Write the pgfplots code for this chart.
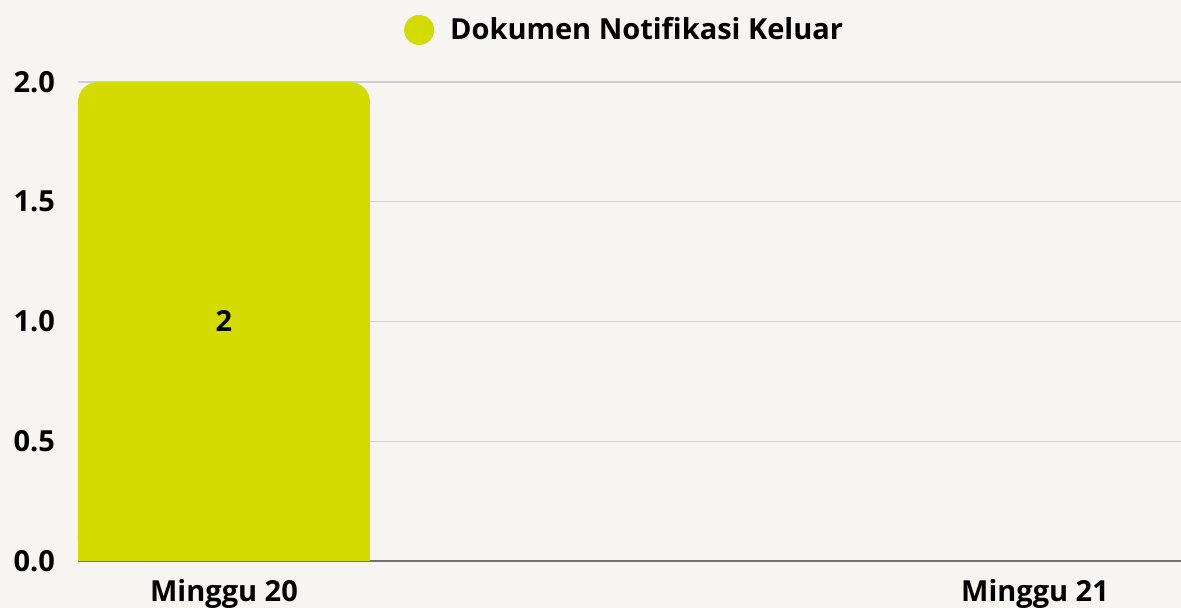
\documentclass[border=0pt]{standalone}
\usepackage{fontspec}
\setmainfont{Open Sans}
\usepackage{pgfplots}
\pgfplotsset{compat=1.18}
\definecolor{barcol}{HTML}{D4DB00}
\definecolor{bgcol}{HTML}{F7F5F2}
\definecolor{gridcol}{HTML}{CFCFCF}
\definecolor{axcol}{HTML}{707070}
\newcommand{\lbl}{\fontsize{14.5}{16}\selectfont\bfseries}
\begin{document}
\begin{tikzpicture}
\path[use as bounding box, fill=bgcol] (-39pt,-23.5pt) rectangle (551.5pt,280.5pt);
\begin{axis}[
  scale only axis, width=551.5pt, height=239.5pt,
  anchor=south west, at={(0pt,0pt)},
  xmin=-0.18, xmax=1.18, ymin=0, ymax=2,
  xtick={0,1}, xticklabels={Minggu 20, Minggu 21},
  ytick={0,0.5,1,1.5,2},
  yticklabel style={/pgf/number format/fixed, /pgf/number format/fixed zerofill,
    /pgf/number format/precision=1, /pgf/number format/assume math mode=true, xshift=-8pt},
  xticklabel style={yshift=-5.5pt},
  tick label style={font=\lbl, text=black},
  axis x line*=bottom, axis y line*=left,
  y axis line style={draw=none},
  x axis line style={draw=axcol, line width=0.6pt, -},
  major tick length=0pt,
  ymajorgrids, grid style={draw=gridcol, line width=0.6pt},
  legend style={at={(0.4965,1.1086)}, anchor=center, draw=none, fill=none, font=\lbl,
    /tikz/every even column/.append style={column sep=2pt},
    /tikz/every odd column/.append style={column sep=6pt}},
]
\addplot[ybar, bar width=146pt, bar shift=0pt, fill=barcol, draw=none, rounded corners=10pt,
  legend image code/.code={\fill[barcol] (0pt,0pt) circle (7.5pt);}] coordinates {(0,2)};
\addlegendentry{Dokumen Notifikasi Keluar}
\addplot[ybar, bar width=146pt, bar shift=0pt, fill=barcol, draw=none, forget plot,
  nodes near coords, point meta=explicit symbolic,
  every node near coord/.append style={anchor=center, font=\lbl, text=black}] coordinates {(0,1) [2]};
\end{axis}
\end{tikzpicture}
\end{document}
